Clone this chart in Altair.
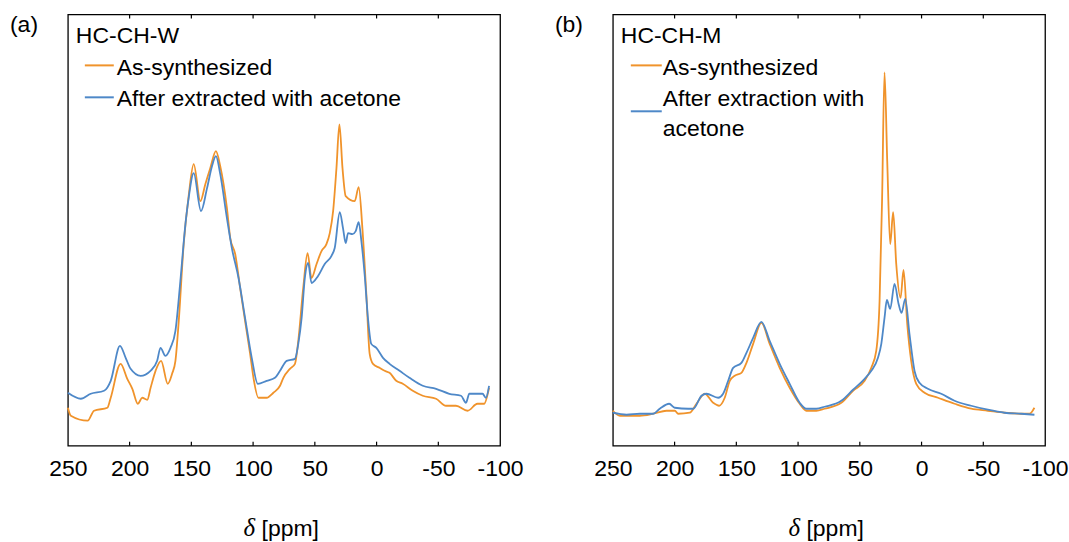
import altair as alt
import pandas as pd

# ---------------- data (chemical shift in ppm, intensity in arbitrary units) ----------------
TICKS = [250, 200, 150, 100, 50, 0, -50, -100]
INNER_TICKS = [200, 150, 100, 50, 0, -50]

# Panel (a) HC-CH-W
a_as_ppm = [250, 247.6, 234, 228.8, 218, 215.3, 207.3, 201.9, 197.8, 193.3, 189.8, 185.7, 183, 179, 174.5,
            169.1, 165.6, 162.9, 160.2, 156.2, 152.2, 148.1, 142.7, 138.7, 134.7, 130.1, 126.6, 121.2, 118.5,
            114.5, 110.5, 106.5, 102.4, 99.7, 95.7, 89, 83.6, 78.2, 75.5, 70.2, 66.1, 63.4, 59.4, 55.9, 52.7,
            48.6, 44.6, 40.6, 37.9, 35.2, 32.5, 30.1, 27.6, 25, 17.7, 14.5, 11.5, 8.3, 5.6, 2.9, -2.4, -6.5,
            -10.5, -15.9, -21.2, -29.3, -37.4, -48.2, -56.2, -64.3, -73.7, -81.7, -87.1, -91.1]
a_as_int = [38, 30, 25, 35, 38, 48, 82, 67, 57, 42, 48, 46, 58, 75, 85,
            62, 72, 85, 125, 202, 250, 282, 245, 262, 278, 295, 280, 238, 208,
            192, 158, 125, 92, 68, 48, 48, 53, 60, 68, 77, 82, 105, 158, 193, 168,
            182, 195, 202, 213, 235, 278, 322, 278, 250, 245, 259, 218, 152, 92, 82, 78, 75,
            73, 65, 62, 55, 50, 47, 40, 40, 35, 42, 42, 58]

a_ex_ppm = [250, 239.5, 231.5, 220.7, 215.3, 207.8, 203.2, 199.2, 191.1, 183.1, 177.7, 175, 171, 166.9,
            162.9, 158.9, 154.8, 152.2, 148.1, 142.2, 137.3, 133.3, 130.1, 126.6, 121.2, 117.2, 111.8,
            106.5, 101.1, 96.2, 89, 82.3, 78.2, 72.8, 66.1, 63.4, 60.7, 58.1, 55.4, 52.7, 47.4, 42, 36.6,
            33.9, 29.8, 27.2, 25, 23.1, 19.6, 16.9, 14.5, 12.3, 9.7, 7, 4.3, 0.2, -5.2, -10.5, -18.6,
            -26.6, -37.4, -48.2, -58.9, -68.4, -72.4, -75.1, -85.8, -88.5, -91.1]
a_ex_int = [53, 47, 52, 55, 65, 100, 88, 77, 70, 75, 85, 98, 90, 98,
            115, 165, 222, 248, 273, 235, 258, 280, 290, 272, 228, 198, 168,
            128, 88, 62, 65, 68, 75, 85, 87, 102, 128, 168, 183, 163, 170, 182, 190,
            198, 234, 218, 203, 213, 212, 215, 224, 205, 172, 128, 102, 98, 88, 82, 75,
            68, 60, 57, 52, 50, 43, 52, 52, 48, 60]

# Panel (b) HC-CH-M
b_as_ppm = [250, 244.3, 228.2, 217.3, 206.6, 199.8, 197.1, 187.7, 182.3, 175.6, 168.8, 163.9, 159.4, 155.3,
            151.3, 145.9, 141.8, 136.4, 129.7, 123, 114.9, 106.8, 98.7, 93.3, 85.2, 78.5, 65, 55.5, 46.1,
            40.7, 36.7, 34, 32, 30, 27.8, 25.4, 23, 20.5, 17, 14.6, 11.6, 8.4, 4.3, -2.4, -13.3, -26.7,
            -40.2, -53.7, -67.2, -80.7, -87.4, -91.4]
b_as_int = [35, 30, 30, 32, 35, 35, 32, 33, 42, 52, 43, 40, 48, 65,
            70, 73, 83, 102, 123, 102, 78, 58, 42, 35, 35, 37, 43, 55, 65,
            78, 95, 145, 245, 374, 285, 202, 234, 182, 148, 176, 122, 85, 62, 53, 48, 42,
            37, 35, 33, 32, 32, 38]

b_ex_ppm = [250, 238.9, 228.2, 217.3, 212, 204.4, 199.8, 189, 185, 178.2, 174.2, 164.7, 160.7, 156.6,
            152.6, 145.9, 141.8, 136.4, 129.7, 123, 114.9, 106.8, 98.7, 93.3, 85.2, 78.5, 65, 55.5, 46.1,
            40.7, 35.3, 32.6, 30, 28.1, 25.4, 21.9, 18.6, 16.2, 13.2, 9.8, 5.7, 1.7, -5.1, -15.9, -26.7,
            -40.2, -53.7, -67.2, -80.7, -91.4]
b_ex_int = [33, 31, 32, 32, 37, 42, 38, 37, 37, 50, 52, 48, 52, 65,
            78, 83, 93, 108, 124, 105, 82, 62, 43, 37, 37, 39, 45, 56, 67,
            75, 88, 102, 128, 146, 137, 162, 142, 133, 147, 112, 75, 63, 57, 52, 45,
            40, 36, 33, 32, 31]

# ---------------- styling ----------------
W, H = 433, 432
ORANGE = "#F0932B"
BLUE = "#4E88C8"
FONT = "Liberation Sans"
FS = 23

xs = alt.Scale(domain=[250, -100], nice=False, zero=False)
ys = alt.Scale(domain=[0, 432], nice=False, zero=False)
xaxis = alt.Axis(values=TICKS, title=None, ticks=False, domain=False, grid=False,
                 labelFlush=False, labelFontSize=FS, labelFont=FONT, labelColor="black",
                 labelPadding=12, labelExpr="'' + datum.value")

ONE = alt.Data(values=[{}])


def txt(s, x, y, size=FS, font=FONT, style="normal"):
    return alt.Chart(ONE).mark_text(text=s, align="left", baseline="alphabetic", font=font,
                                    fontSize=size, fontStyle=style, color="black").encode(
        x=alt.value(x), y=alt.value(y))


def seg(color, x1, x2, y):
    return alt.Chart(ONE).mark_rule(color=color, strokeWidth=2).encode(
        x=alt.value(x1), x2=alt.value(x2), y=alt.value(y))


def panel(letter, sample, as_ppm, as_int, ex_ppm, ex_int, legend_layers):
    df_as = pd.DataFrame({"ppm": as_ppm, "intensity": as_int})
    df_ex = pd.DataFrame({"ppm": ex_ppm, "intensity": ex_int})
    df_t = pd.DataFrame({"ppm": INNER_TICKS})
    x_enc = alt.X("ppm:Q", scale=xs, axis=xaxis)
    y_enc = alt.Y("intensity:Q", scale=ys, axis=None)
    line_as = alt.Chart(df_as).mark_line(color=ORANGE, strokeWidth=1.8, interpolate="monotone").encode(
        x=x_enc, y=y_enc)
    line_ex = alt.Chart(df_ex).mark_line(color=BLUE, strokeWidth=1.8, interpolate="monotone").encode(
        x=x_enc, y=y_enc)
    tick_b = alt.Chart(df_t).mark_rule(color="black", strokeWidth=1.2).encode(
        x=alt.X("ppm:Q", scale=xs), y=alt.value(H), y2=alt.value(H - 4))
    tick_t = alt.Chart(df_t).mark_rule(color="black", strokeWidth=1.2).encode(
        x=alt.X("ppm:Q", scale=xs), y=alt.value(0), y2=alt.value(4))
    layers = [line_as, line_ex, tick_b, tick_t,
              txt(letter, -58, 18),
              txt(sample, 8, 29),
              txt("δ", 176, 522, size=25, font="Liberation Serif", style="italic"),
              txt("[ppm]", 194, 522)] + legend_layers
    return alt.layer(*layers).properties(width=W, height=H)


legend_a = [seg(ORANGE, 17, 46, 51), txt("As-synthesized", 49, 61),
            seg(BLUE, 17, 46, 83), txt("After extracted with acetone", 49, 92)]
legend_b = [seg(ORANGE, 18, 49, 51), txt("As-synthesized", 50, 61),
            seg(BLUE, 18, 49, 97), txt("After extraction with", 50, 92), txt("acetone", 50, 122)]

pa = panel("(a)", "HC-CH-W", a_as_ppm, a_as_int, a_ex_ppm, a_ex_int, legend_a)
pb = panel("(b)", "HC-CH-M", b_as_ppm, b_as_int, b_ex_ppm, b_ex_int, legend_b)

chart = alt.hconcat(pa, pb, spacing=30).properties(
    padding={"left": 9, "top": 12, "right": 0, "bottom": 0},
    background="white",
).configure_view(stroke="black", strokeWidth=1.3)

chart.save("out.html", embed_options={"renderer": "svg", "actions": False})
